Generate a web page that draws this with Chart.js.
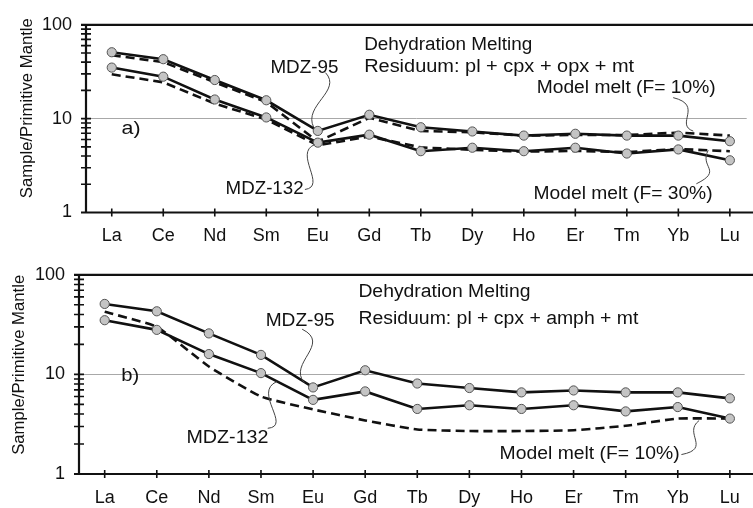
<!DOCTYPE html>
<html><head><meta charset="utf-8">
<script src="https://cdn.jsdelivr.net/npm/chart.js@4"></script>
<style>
html,body{margin:0;padding:0;background:#fff;}
#wrap{position:relative;width:753px;height:508px;overflow:hidden;}
canvas{position:absolute;left:0;}
</style></head><body>
<div id="wrap">
<canvas id="ca" width="753" height="250" style="top:0"></canvas>
<canvas id="cb" width="753" height="258" style="top:250px"></canvas>
</div>
<script>
const categories = ['La','Ce','Nd','Sm','Eu','Gd','Tb','Dy','Ho','Er','Tm','Yb','Lu'];
const yTicks = [1, 10, 100];
const mdz95   = [51, 43, 25.8, 15.7, 7.4, 11.0, 8.1, 7.3, 6.6, 6.9, 6.6, 6.6, 5.75];
const mdz132  = [35, 28, 16, 10.3, 5.55, 6.75, 4.5, 4.9, 4.5, 4.9, 4.25, 4.7, 3.6];
const meltA10 = [47.5, 40, 24.4, 15, 5.7, 10.2, 7.4, 7.15, 6.6, 6.7, 6.7, 7.1, 6.6];
const meltA30 = [29.7, 24.4, 14.5, 9.8, 5.2, 6.45, 4.94, 4.65, 4.45, 4.53, 4.4, 4.75, 4.5];
const meltB10 = [42.5, 30, 12, 6.0, 4.45, 3.45, 2.8, 2.7, 2.7, 2.75, 3.05, 3.6, 3.6];

const FONT = '"Liberation Sans", Arial, Helvetica, sans-serif';
const pts = arr => arr.map((v, i) => ({x: i, y: v}));

function solid(data){
  return {data: pts(data), borderColor:'#111', borderWidth:2.6, tension:0,
    pointRadius:4.6, pointBackgroundColor:'#c4c4c4', pointBorderColor:'#555', pointBorderWidth:1};
}
function dashed(data, tension){
  return {data: pts(data), borderColor:'#111', borderWidth:2.6, borderDash:[9,5], tension:tension||0,
    pointRadius:0, cubicInterpolationMode:'default'};
}

const decoPlugin = {
  afterDraw(chart, args, o){
    const ctx = chart.ctx, xs = chart.scales.x, ys = chart.scales.y, ca = chart.chartArea;
    const P = (i, lg) => [xs.getPixelForValue(i), ys.getPixelForValue(Math.pow(10, lg))];
    ctx.save();
    ctx.strokeStyle = '#111'; ctx.lineWidth = 2.2; ctx.lineCap = 'butt';
    ctx.beginPath();
    ctx.moveTo(ca.left - 5, ca.top); ctx.lineTo(chart.width, ca.top);
    ctx.moveTo(ca.left, ca.top); ctx.lineTo(ca.left, ca.bottom); ctx.lineTo(chart.width, ca.bottom);
    ctx.moveTo(ca.left - 5, ca.bottom); ctx.lineTo(ca.left, ca.bottom);
    ctx.stroke();
    ctx.lineWidth = 1.6;
    ctx.beginPath();
    [1, 10].forEach(d => { for (let k = 2; k <= 10; k++) { const py = ys.getPixelForValue(d * k); ctx.moveTo(ca.left - 5, py); ctx.lineTo(ca.left + 5, py); } });
    categories.forEach((c, i) => { const px = xs.getPixelForValue(i); ctx.moveTo(px, ca.bottom - 4); ctx.lineTo(px, ca.bottom + 4); });
    ctx.stroke();
    ctx.fillStyle = '#111';
    ctx.font = '17px ' + FONT;
    ctx.textAlign = 'center'; ctx.textBaseline = 'middle';
    const tp = P(0, o.titleLg);
    const tw = ctx.measureText(o.title).width;
    ctx.save();
    ctx.translate(ca.left + o.titleDx, tp[1]);
    ctx.rotate(-Math.PI / 2);
    ctx.scale(o.titleLen / tw, 1);
    ctx.fillText(o.title, 0, 0);
    ctx.restore();
    ctx.textAlign = 'left';
    o.texts.forEach(t => {
      ctx.font = (t.size || 18) + 'px ' + FONT;
      const p = P(t.i, t.lg);
      const w = ctx.measureText(t.s).width;
      ctx.save();
      ctx.translate(p[0], p[1]);
      if (t.w) ctx.scale(t.w / w, 1);
      ctx.fillText(t.s, 0, 0);
      ctx.restore();
    });
    ctx.strokeStyle = '#444'; ctx.lineWidth = 1;
    o.leaders.forEach(L => {
      const a = P(...L[0]), b = P(...L[1]), c = P(...L[2]), d = P(...L[3]);
      ctx.beginPath(); ctx.moveTo(a[0], a[1]); ctx.bezierCurveTo(b[0], b[1], c[0], c[1], d[0], d[1]); ctx.stroke();
    });
    ctx.restore();
  }
};

function makeChart(id, datasets, xmin, xmax, top, bottomH, leftW, deco) {
  return new Chart(document.getElementById(id), {
    type: 'line',
    data: {datasets},
    plugins: [{id:'deco', afterDraw: (c, a) => decoPlugin.afterDraw(c, a, deco)}],
    options: {
      responsive: false, animation: false, devicePixelRatio: 1,
      layout: {padding: {top: top, right: 0, left: 0, bottom: 0}},
      plugins: {legend: {display: false}, tooltip: {enabled: false}},
      scales: {
        x: {
          type: 'linear', min: xmin, max: xmax,
          afterBuildTicks: s => { s.ticks = categories.map((c, i) => ({value: i})); },
          afterFit: s => { s.height = bottomH; },
          ticks: {callback: v => categories[v], font: {size: 18, family: FONT}, color: '#111', padding: 13, maxRotation: 0, autoSkip: false},
          grid: {display: false, drawTicks: false},
          border: {display: false}
        },
        y: {
          type: 'logarithmic', min: 1, max: 100,
          afterBuildTicks: s => { s.ticks = yTicks.map(v => ({value: v})); },
          afterFit: s => { s.width = leftW; },
          ticks: {callback: v => String(v), font: {size: 18, family: FONT}, color: '#111', padding: 14},
          grid: {color: c => (c.tick && c.tick.value === 10) ? '#a8a8a8' : 'rgba(0,0,0,0)', lineWidth: 1, drawTicks: false},
          border: {display: false}
        }
      }
    }
  });
}

makeChart('ca',
  [solid(mdz95), solid(mdz132), dashed(meltA10), dashed(meltA30)],
  -0.5, 12.327, 15, 37.5, 86,
  {
    title: 'Sample/Primitive Mantle', titleLg: 1.112, titleDx: -59, titleLen: 180,
    texts: [
      {s:'Dehydration Melting', i:4.9, lg:1.786, w:168},
      {s:'Residuum: pl + cpx + opx + mt', i:4.9, lg:1.551, w:270},
      {s:'MDZ-95', i:3.08, lg:1.541, w:68},
      {s:'MDZ-132', i:2.21, lg:0.245, w:78},
      {s:'Model melt (F= 10%)', i:8.25, lg:1.327, w:179},
      {s:'Model melt (F= 30%)', i:8.19, lg:0.194, w:179},
      {s:'a)', i:0.19, lg:0.888, w:19}
    ],
    leaders: [
      [[4.15,1.49],[4.48,1.296],[3.71,1.143],[3.92,0.908]],
      [[3.75,0.245],[4.19,0.276],[3.52,0.633],[3.94,0.724]],
      [[10.9,1.224],[11.5,1.143],[10.92,0.939],[11.29,0.867]],
      [[11.58,0.663],[11.4,0.48],[11.88,0.449],[11.35,0.306]]
    ]
  });

makeChart('cb',
  [solid(mdz95), solid(mdz132), dashed(meltB10, 0.15)],
  -0.493, 12.284, 19, 34, 79,
  {
    title: 'Sample/Primitive Mantle', titleLg: 1.096, titleDx: -60, titleLen: 180,
    texts: [
      {s:'Dehydration Melting', i:4.87, lg:1.824, w:172},
      {s:'Residuum: pl + cpx + amph + mt', i:4.87, lg:1.551, w:280},
      {s:'MDZ-95', i:3.09, lg:1.532, w:69},
      {s:'MDZ-132', i:1.57, lg:0.361, w:82},
      {s:'Model melt (F= 10%)', i:7.58, lg:0.205, w:180},
      {s:'b)', i:0.32, lg:0.985, w:18}
    ],
    leaders: [
      [[3.79,1.454],[4.36,1.307],[3.51,1.112],[3.83,0.917]],
      [[3.13,0.459],[3.6,0.478],[2.84,0.82],[3.3,0.927]],
      [[11.07,0.195],[11.66,0.254],[11.09,0.41],[11.41,0.537]]
    ]
  });
</script>
</body></html>
